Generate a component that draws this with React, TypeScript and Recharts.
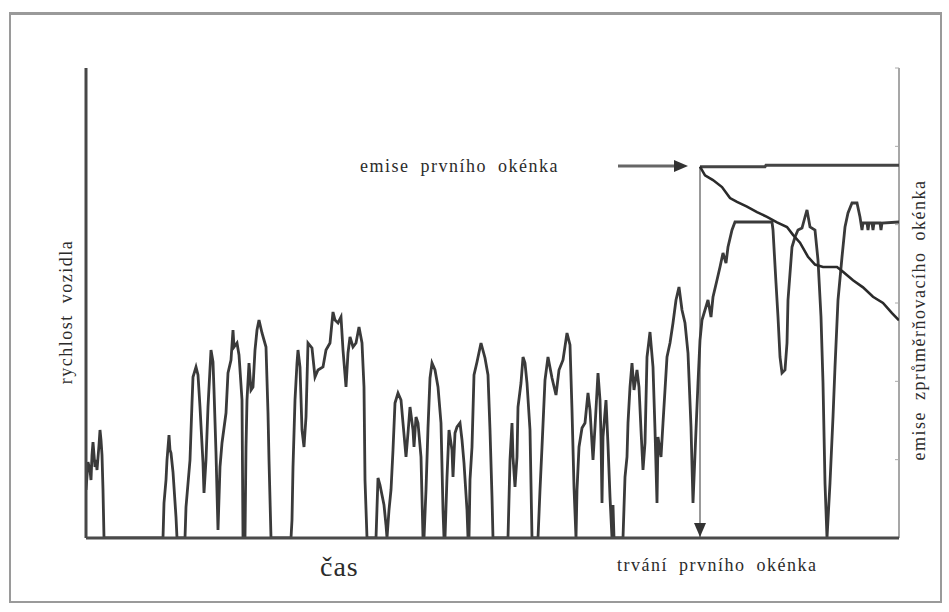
import { ComposedChart, Line, XAxis, YAxis, ReferenceLine, ReferenceDot } from 'recharts';

// time (s) / vehicle speed
const speedTrace: [number, number][] = [
  [0, 48], [2, 76], [4, 68], [5, 58], [6, 83], [7, 96], [9, 71], [10, 78], [11, 68], [13, 93],
  [14, 108], [15, 98], [16, 83], [17, 48], [18, 0],
  [77, 0], [78, 35], [80, 58], [81, 78], [83, 103], [84, 88], [85, 85], [87, 66], [90, 21], [91, 0],
  [99, 0], [100, 31], [104, 78], [106, 135], [107, 161], [110, 171], [112, 163], [114, 131], [117, 75],
  [118, 45], [120, 78], [122, 131], [125, 188], [127, 176], [128, 148], [130, 85], [132, 8], [134, 71],
  [136, 95], [140, 125], [142, 165], [145, 178], [147, 208], [148, 191], [151, 195], [153, 183],
  [156, 138], [157, 0],
  [159, 0], [160, 91], [161, 138], [163, 175], [165, 148], [167, 151], [169, 188], [171, 208], [173, 218],
  [176, 205], [178, 198], [180, 191], [182, 125], [183, 78], [185, 0],
  [205, 0], [206, 18], [207, 71], [209, 138], [211, 175], [212, 188], [214, 171], [216, 108], [218, 91],
  [220, 121], [222, 195], [226, 190], [229, 161], [232, 168], [237, 171], [240, 188], [244, 195],
  [247, 226], [249, 218], [252, 215], [255, 221], [257, 188], [260, 151], [262, 185], [264, 201],
  [267, 191], [270, 195], [273, 211], [276, 195], [278, 151], [279, 58], [281, 0],
  [290, 0], [292, 60], [294, 53], [296, 43], [298, 33], [300, 13], [301, 0], [303, 28], [305, 48],
  [307, 88], [309, 135], [312, 145], [315, 138], [317, 115], [320, 81], [322, 105], [324, 131],
  [327, 108], [328, 91], [330, 121], [332, 115], [335, 81], [337, 0],
  [338, 0], [340, 48], [342, 110], [344, 160], [346, 175], [349, 168], [352, 151], [355, 115], [357, 28], [358, 0],
  [359, 0], [361, 61], [363, 108], [366, 88], [367, 61], [369, 105], [371, 111], [374, 115], [376, 98],
  [378, 75], [381, 28], [382, 0],
  [383, 0], [384, 58], [386, 91], [388, 163], [391, 176], [395, 195], [399, 180], [402, 163], [404, 108],
  [406, 41], [407, 0],
  [422, 0], [424, 78], [426, 115], [427, 81], [429, 51], [431, 81], [432, 131], [435, 155], [437, 181],
  [439, 175], [441, 155], [444, 108], [446, 0],
  [452, 0], [454, 48], [456, 91], [459, 158], [462, 181], [466, 160], [470, 143], [473, 168], [477, 178],
  [481, 205], [484, 193], [486, 128], [488, 51], [490, 0],
  [491, 48], [493, 91], [496, 110], [499, 115], [502, 145], [504, 128], [507, 78], [509, 111], [512, 165],
  [514, 138], [515, 101], [516, 35], [517, 101], [520, 138], [522, 93], [524, 41], [526, 0], [527, 33], [528, 0],
  [537, 0], [539, 61], [541, 81], [542, 115], [544, 151], [546, 175], [548, 148], [551, 168], [553, 151],
  [555, 108], [557, 68], [559, 95], [561, 181], [564, 206], [567, 171], [569, 108], [571, 35], [572, 101],
  [575, 81], [577, 115], [581, 181], [584, 195], [587, 215], [590, 238], [593, 251], [596, 228], [599, 215],
  [602, 185], [605, 111], [607, 35], [610, 108], [612, 155], [614, 198], [616, 218], [619, 228], [622, 238],
  [625, 221], [627, 241], [631, 258], [634, 271], [637, 285], [640, 275], [642, 291], [646, 308], [649, 316],
  [686, 316], [687, 308], [690, 255], [692, 221], [694, 181], [696, 165], [699, 168], [701, 195], [702, 238],
  [706, 291], [709, 301], [712, 308], [716, 310], [719, 321], [721, 328], [724, 311], [729, 308], [732, 278],
  [735, 221], [737, 155], [739, 55], [741, 0], [744, 55], [747, 121], [749, 171], [752, 238], [756, 281],
  [759, 311], [762, 325], [766, 335], [771, 335], [774, 321], [776, 308], [777, 315], [781, 315], [782, 308],
  [783, 315], [786, 315], [787, 308], [788, 315], [794, 315], [795, 308], [796, 315], [813, 316],
];

// averaging-window emission (right axis)
const windowEmission: [number, number][] = [
  [614, 4.74], [619, 4.63], [627, 4.57], [636, 4.48], [644, 4.34], [651, 4.29], [661, 4.23], [671, 4.16],
  [681, 4.1], [691, 4.03], [701, 3.97], [707, 3.87], [714, 3.77], [722, 3.59], [729, 3.49], [737, 3.46],
  [751, 3.46], [757, 3.4], [767, 3.29], [777, 3.2], [787, 3.08], [797, 3.0], [806, 2.87], [813, 2.78],
];

// first window emission level
const windowLevel: [number, number][] = [
  [614, 4.74], [679, 4.74], [680, 4.76], [813, 4.76],
];

const timeMax = 813;
const speedMax = 470;
const emisMax = 6;
const rightTicks = [1, 2, 3, 4, 5, 6];
const windowEnd = 614;
const windowTop = 4.74;
const arrowFrom = 532;
const arrowTip = 602;
const arrowLevel = 4.75;

const chartData = [
  ...speedTrace.map(([t, v]) => ({ t, speed: v })),
  ...windowEmission.map(([t, v]) => ({ t, emission: v })),
  ...windowLevel.map(([t, v]) => ({ t, level: v })),
];

const serif = '"Liberation Serif", "Times New Roman", Times, "DejaVu Serif", "Noto Serif", serif';

const textBase: React.CSSProperties = {
  position: 'absolute',
  fontFamily: serif,
  color: '#2b2b2b',
  whiteSpace: 'nowrap',
  lineHeight: 1,
  fontSize: 18,
  letterSpacing: 1.5,
  wordSpacing: 5,
};

const DownArrow = (props: any) => {
  const { cx, cy } = props;
  return <polygon points={`${cx - 6},${cy - 15} ${cx + 6},${cy - 15} ${cx},${cy - 1}`} fill="#333" />;
};

const RightArrow = (props: any) => {
  const { cx, cy } = props;
  return <polygon points={`${cx - 14},${cy - 6} ${cx - 14},${cy + 6} ${cx},${cy}`} fill="#333" />;
};

export default function App() {
  return (
    <div style={{ position: 'absolute', left: 0, top: 0, width: 949, height: 612, background: '#fff' }}>
      <div
        style={{
          position: 'absolute',
          left: 9,
          top: 12,
          width: 929,
          height: 586,
          border: '2px solid #9a9a9a',
          borderTopWidth: 3,
        }}
      />
      <div style={{ position: 'absolute', left: 0, top: 0 }}>
        <ComposedChart
          width={949}
          height={612}
          data={chartData}
          margin={{ top: 68, right: 50, bottom: 74, left: 86 }}
        >
          <XAxis type="number" dataKey="t" domain={[0, timeMax]} allowDataOverflow hide />
          <YAxis yAxisId="speed" domain={[0, speedMax]} allowDataOverflow hide />
          <YAxis yAxisId="emis" orientation="right" domain={[0, emisMax]} allowDataOverflow hide />

          {/* right axis with inward ticks */}
          <ReferenceLine
            yAxisId="emis"
            segment={[{ x: timeMax, y: 0 }, { x: timeMax, y: emisMax }]}
            stroke="#8a8a8a"
            strokeWidth={1.5}
          />
          {rightTicks.map((k) => (
            <ReferenceLine
              key={k}
              yAxisId="emis"
              segment={[{ x: timeMax - 4, y: k }, { x: timeMax, y: k }]}
              stroke="#aaa"
              strokeWidth={1}
            />
          ))}

          <ReferenceLine
            yAxisId="emis"
            segment={[{ x: windowEnd, y: 0 }, { x: windowEnd, y: windowTop }]}
            stroke="#777"
            strokeWidth={1.5}
          />
          <ReferenceLine
            yAxisId="emis"
            segment={[{ x: arrowFrom, y: arrowLevel }, { x: arrowTip - 10, y: arrowLevel }]}
            stroke="#666"
            strokeWidth={3}
          />
          <ReferenceDot yAxisId="emis" x={arrowTip} y={arrowLevel} shape={RightArrow} />
          <ReferenceDot yAxisId="emis" x={windowEnd} y={0} shape={DownArrow} />
          <Line
            yAxisId="speed"
            dataKey="speed"
            type="linear"
            stroke="#3a3a3a"
            strokeWidth={2.8}
            dot={false}
            connectNulls
            isAnimationActive={false}
          />
          <Line
            yAxisId="emis"
            dataKey="level"
            type="linear"
            stroke="#444"
            strokeWidth={3}
            dot={false}
            connectNulls
            isAnimationActive={false}
          />
          <Line
            yAxisId="emis"
            dataKey="emission"
            type="linear"
            stroke="#2a2a2a"
            strokeWidth={2.6}
            dot={false}
            connectNulls
            isAnimationActive={false}
          />

          {/* main axes */}
          <ReferenceLine
            yAxisId="speed"
            segment={[{ x: 0, y: 0 }, { x: 0, y: speedMax }]}
            stroke="#474747"
            strokeWidth={3}
          />
          <ReferenceLine
            yAxisId="speed"
            segment={[{ x: 0, y: 0 }, { x: timeMax, y: 0 }]}
            stroke="#4a4a4a"
            strokeWidth={3}
          />
        </ComposedChart>
      </div>

      <div style={{ ...textBase, left: 360, top: 157 }}>emise prvního okénka</div>
      <div style={{ ...textBase, left: 617, top: 556 }}>trvání prvního okénka</div>
      <div style={{ ...textBase, left: 320, top: 553, fontSize: 28, letterSpacing: 1 }}>čas</div>
      <div
        style={{
          ...textBase,
          left: 66,
          top: 312,
          transform: 'translate(-50%, -50%) rotate(-90deg)',
        }}
      >
        rychlost vozidla
      </div>
      <div
        style={{
          ...textBase,
          left: 919,
          top: 320,
          transform: 'translate(-50%, -50%) rotate(-90deg)',
        }}
      >
        emise zprůměrňovacího okénka
      </div>
    </div>
  );
}
